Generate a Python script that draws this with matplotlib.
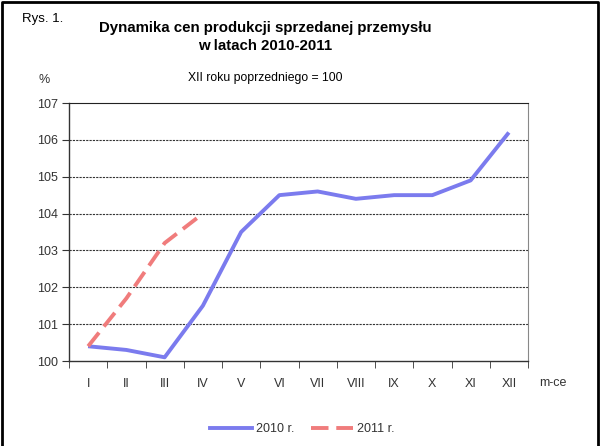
import matplotlib
matplotlib.use("Agg")
import matplotlib.pyplot as plt
from matplotlib.lines import Line2D

plt.rcParams['font.family'] = ['Liberation Sans', 'DejaVu Sans']

months = ["I", "II", "III", "IV", "V", "VI", "VII", "VIII", "IX", "X", "XI", "XII"]
v2010 = [100.4, 100.3, 100.1, 101.5, 103.5, 104.5, 104.6, 104.4, 104.5, 104.5, 104.9, 106.2]
v2011 = [100.4, 101.7, 103.2, 104.0]
yticks = [100, 101, 102, 103, 104, 105, 106, 107]

W, H = 600, 446
fig = plt.figure(figsize=(6, 4.46), dpi=100)
ax = fig.add_axes([69 / W, 1 - 361 / H, (528 - 69) / W, (361 - 103) / H])

x10 = list(range(len(v2010)))
x11 = list(range(len(v2011)))
blue = "#7B7BEE"
red = "#F07C7C"
ax.plot(x10, v2010, color=blue, lw=2.8, solid_capstyle='butt', zorder=3)
ax.plot(x11, v2011, color=red, lw=2.8, dashes=(4.5, 2), zorder=3)

ax.set_xlim(-0.5, len(months) - 0.5)
ax.set_ylim(100, 107)
ax.set_yticks(yticks)
ax.set_yticklabels([str(t) for t in yticks], fontsize=9, color="#333333")
ax.set_xticks(range(len(months)))
ax.set_xticklabels(months, fontsize=9, color="#333333")
ax.tick_params(axis='x', length=0, pad=12)
ax.set_xticks([i - 0.5 for i in range(len(months) + 1)], minor=True)
ax.tick_params(axis='x', which='minor', length=5, direction='out', color='#333333')
ax.tick_params(axis='y', length=5, direction='out', color='#333333', pad=3)

for t in yticks[1:-1]:
    ax.axhline(t, color='#333333', lw=0.8, ls=(0, (2, 1)), zorder=1)

for s in ['left', 'bottom']:
    ax.spines[s].set_color('#333333')
    ax.spines[s].set_linewidth(1.0)
ax.spines['top'].set_color('#222222')
ax.spines['right'].set_color('#888888')

fig.text(22 / W, 1 - 19 / H, "Rys. 1.", fontsize=9.5, va='center', ha='left')
fig.text(265 / W, 1 - 37 / H, "Dynamika cen produkcji sprzedanej przemysłu\nw latach 2010-2011",
         fontsize=10.8, fontweight='bold', ha='center', va='center', linespacing=1.3)
fig.text(265 / W, 1 - 78 / H, "XII roku poprzedniego = 100", fontsize=8.8, ha='center', va='center')
fig.text(44 / W, 1 - 80 / H, "%", fontsize=9, ha='center', va='center', color='#333333')
fig.text(553 / W, 1 - 383 / H, "m-ce", fontsize=9, ha='center', va='center', color='#333333')

handles = [Line2D([], [], color=blue, lw=2.8),
           Line2D([], [], color=red, lw=2.8, dashes=(4.5, 2))]
fig.legend(handles, ["2010 r.", "2011 r."], loc='center', bbox_to_anchor=(302 / W, 1 - 429 / H),
           ncol=2, frameon=False, fontsize=9, handlelength=3.4, handletextpad=0.3, columnspacing=1.3,
           labelcolor='#333333')

# figure border
border = Line2D([1.5 / W, 1.5 / W, 597.5 / W, 597.5 / W], [-0.05, 1 - 1.5 / H, 1 - 1.5 / H, -0.05],
                transform=fig.transFigure, color='black', lw=2)
fig.add_artist(border)

fig.savefig("out.png", dpi=100, facecolor='white')
